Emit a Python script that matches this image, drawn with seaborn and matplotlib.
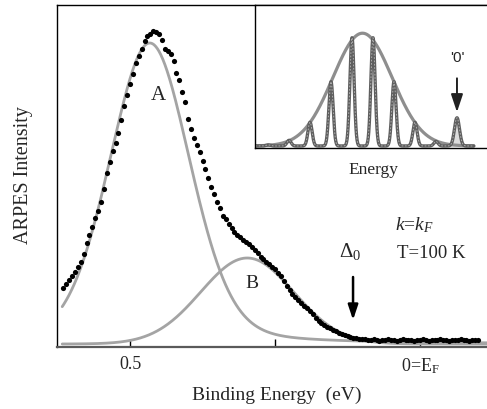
import numpy as np
import pandas as pd
import matplotlib
matplotlib.use("Agg")
import matplotlib.pyplot as plt
import seaborn as sns

sns.set_style("ticks")
plt.rcParams["font.family"] = ["Liberation Serif", "DejaVu Serif"]
plt.rcParams["mathtext.fontset"] = "custom"
plt.rcParams["mathtext.rm"] = "Liberation Serif"
plt.rcParams["mathtext.it"] = "Liberation Serif:italic"
plt.rcParams["mathtext.bf"] = "Liberation Serif:bold"

# ---- ARPES spectrum at k = k_F, T = 100 K (binding energy in eV) ----
energy_start = 0.615
energy_step = 0.005
intensity = [
    56, 60, 64, 68, 72, 77, 82, 90, 101, 109,
    117, 126, 133, 142, 155, 171, 182, 193, 201, 211,
    224, 238, 249, 260, 270, 281, 288, 295, 303, 308,
    310, 313, 312, 310, 304, 295, 293, 290, 283, 271,
    264, 252, 242, 225, 215, 206, 199, 192, 183, 175,
    166, 157, 150, 142, 136, 128, 125, 120, 116, 112,
    109, 107, 104, 102, 100, 97, 94, 91, 87, 85,
    82, 80, 77, 75, 71, 68, 63, 58, 54, 50,
    47, 44, 41, 38, 36, 33, 30, 26, 23, 21,
    19, 17, 16, 14, 13, 11, 10, 9, 8, 7,
    6, 6, 5, 5, 5, 4, 4, 5, 4, 3,
    4, 4, 5, 4, 4, 3, 4, 5, 4, 4,
    4, 3, 4, 4, 5, 4, 3, 4, 4, 4,
    5, 4, 4, 3, 4, 4, 4, 5, 4, 4,
    3, 4, 4, 4,
]
binding_energy = np.round(energy_start - energy_step * np.arange(len(intensity)), 4)

# fitted components A and B (pseudo-Voigt: Gaussian with a Lorentzian fraction)
fit_labels = ["A", "B"]
fit_center = [0.466, 0.298]
fit_height = [301, 86]
fit_sigma = [0.070, 0.080]
fit_lorentz_frac = [0.2, 0.0]

# ---- inset: schematic spectrum of sharp lines under a Gaussian envelope ----
envelope_height = 1.0
envelope_sigma = 1.41
line_pos = [-4.5, -3.5, -2.5, -1.5, -0.5, 0.5, 1.5, 2.5, 3.5]
line_height = [0.01, 0.05, 0.21, 0.57, 0.96, 0.96, 0.57, 0.21, 0.04]
line_sigma = 0.10
zero_line_pos = 4.5
zero_line_height = 0.25
zero_line_sigma = 0.12


def pseudo_voigt(x, x0, h, sigma, eta):
    gauss = np.exp(-(x - x0) ** 2 / (2 * sigma ** 2))
    hwhm = sigma * np.sqrt(2 * np.log(2))
    lorentz = 1.0 / (1.0 + ((x - x0) / hwhm) ** 2)
    return h * ((1 - eta) * gauss + eta * lorentz)


fig = plt.figure(figsize=(4.87, 4.09), dpi=100)
ax = fig.add_axes([57 / 487, 1 - 346.5 / 409, 430 / 487, 341.5 / 409])

grid = np.linspace(-0.116, 0.617, 800)
fit_df = pd.concat(
    [
        pd.DataFrame({
            "energy": grid,
            "intensity": pseudo_voigt(grid, c, h, s, e),
            "component": lab,
        })
        for lab, c, h, s, e in zip(fit_labels, fit_center, fit_height, fit_sigma, fit_lorentz_frac)
    ],
    ignore_index=True,
)
sns.lineplot(data=fit_df, x="energy", y="intensity", units="component",
             estimator=None, sort=False, color="#a4a4a4", lw=2.0, ax=ax)

data_df = pd.DataFrame({"energy": binding_energy, "intensity": intensity})
sns.scatterplot(data=data_df, x="energy", y="intensity", color="black",
                s=14, linewidth=0, ax=ax, zorder=3)

ax.set_xlim(0.626, -0.1155)
ax.set_ylim(-2.5, 339)
ax.set_yticks([])
ax.set_xticks([0.5, 0.25, 0.0])
ax.set_xticklabels(["0.5", "", r"0=E$_{\rm F}$"])
ax.tick_params(axis="x", direction="in", length=6, width=1, color="black",
               labelsize=13, pad=7)
ax.spines["right"].set_visible(False)
ax.spines["top"].set_linewidth(1.0)
ax.spines["top"].set_color("black")
ax.spines["left"].set_linewidth(1.0)
ax.spines["left"].set_color("black")
ax.spines["bottom"].set_linewidth(1.6)
ax.spines["bottom"].set_color("#5a5a5a")

ax.set_xlabel("Binding Energy  (eV)", fontsize=14)
ax.xaxis.label.set_va("center")
ax.xaxis.set_label_coords(0.512, -0.142)
ax.set_ylabel("ARPES Intensity", fontsize=14.5)
ax.yaxis.label.set_va("center")
ax.yaxis.set_label_coords(-0.078, 0.502)

ax.text(0.452, 248, "A", fontsize=15, ha="center", va="center")
ax.text(0.290, 60, "B", fontsize=14, ha="center", va="center")
ax.text(0.121, 92, r"$\Delta_0$", fontsize=15, ha="center", va="center")
ax.annotate("", xy=(0.1155, 24), xytext=(0.1155, 67),
            arrowprops=dict(arrowstyle="-|>,head_length=0.75,head_width=0.25",
                            color="black", lw=1.8, mutation_scale=12,
                            shrinkA=0, shrinkB=0))
ax.text(0.044, 119, r"$k$=$k_F$", fontsize=14, ha="left", va="center")
ax.text(0.040, 90, "T=100 K", fontsize=13.5, ha="left", va="center")

# ---- inset ----
ins = fig.add_axes([255 / 487, 1 - 148 / 409, 232 / 487, 143 / 409])
ins.set_facecolor("white")
e_grid = np.linspace(-5.1, 5.3, 1500)
envelope = envelope_height * np.exp(-e_grid ** 2 / (2 * envelope_sigma ** 2))
lines = sum(h * np.exp(-(e_grid - p) ** 2 / (2 * line_sigma ** 2))
            for p, h in zip(line_pos, line_height))
zero_line = zero_line_height * np.exp(-(e_grid - zero_line_pos) ** 2 / (2 * zero_line_sigma ** 2))

sns.lineplot(x=e_grid, y=envelope, estimator=None, sort=False,
             color="#8e8e8e", lw=2.3, ax=ins)
ins.fill_between(e_grid, 0, zero_line, color="#dcdcdc", lw=0)
spectrum = lines + zero_line
sns.lineplot(x=e_grid, y=spectrum, estimator=None, sort=False,
             color="#5f5f5f", lw=2.4, ax=ins)
sns.lineplot(x=e_grid, y=spectrum, estimator=None, sort=False,
             color="#b8b8b8", lw=0.6, ax=ins)
ins.lines[-1].set_linestyle((0, (2, 2)))

ins.set_xlim(-5.12, 5.93)
ins.set_ylim(-0.018, 1.25)
ins.set_xticks([])
ins.set_yticks([])
ins.spines["right"].set_visible(False)
for side in ("left", "bottom", "top"):
    ins.spines[side].set_linewidth(1.0)
    ins.spines[side].set_color("black")
ins.set_xlabel("Energy", fontsize=12.5)
ins.xaxis.label.set_va("center")
ins.xaxis.set_label_coords(0.509, -0.154)
ins.set_ylabel("")

ins.text(zero_line_pos, 0.78, "'0'", fontsize=11, ha="center", va="center",
         family=["Liberation Sans", "DejaVu Sans"])
ins.annotate("", xy=(zero_line_pos, 0.30), xytext=(zero_line_pos, 0.60),
             arrowprops=dict(arrowstyle="-|>,head_length=0.9,head_width=0.3",
                             color="#222222", lw=1.4, mutation_scale=12,
                             shrinkA=0, shrinkB=0))

fig.savefig("out.png", dpi=100)
